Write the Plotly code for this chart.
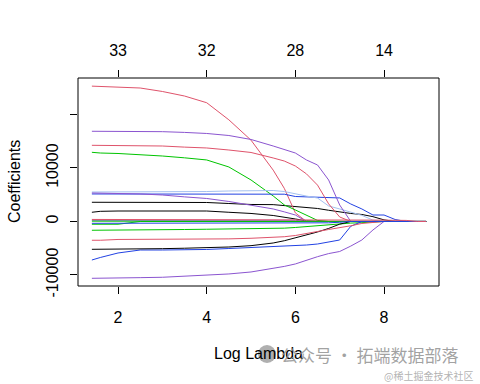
import plotly.graph_objects as go

# log(lambda) grid
log_lambda = [1.41, 1.6, 2, 2.5, 3, 3.5, 4, 4.5, 5, 5.5, 5.75, 6, 6.25, 6.5,
              6.75, 7, 7.25, 7.5, 7.75, 8, 8.25, 8.5, 8.75, 8.95]

top_ticks = [2, 4, 6, 8]
top_labels = ["33", "32", "28", "14"]
y_ticks = [-10000, 0, 10000, 20000]
y_labels = ["-10000", "0", "10000", ""]

BLACK = "#000000"
PINK = "#DF536B"
GREEN = "#00C400"
BLUE = "#2242E3"
LIGHTBLUE = "#A3C0F0"
PURPLE = "#8B55D0"

c_pink1 = [25300, 25250, 25200, 24950, 24300, 23450, 22200, 19000, 15200, 9600,
           6200, 1600, 0, 0, 0, 0, 0, 0, 0, 0, 0, 0, 0, 0]
c_purple1 = [16860, 16860, 16800, 16800, 16790, 16650, 16450, 16070, 15330, 14110,
             13400, 12800, 11500, 10560, 7760, 3080, 0, 0, 0, 0, 0, 0, 0, 0]
c_pink2 = [14240, 14240, 14220, 14150, 14110, 13900, 13740, 13360, 12900, 11870,
           11300, 10370, 8900, 6800, 3300, 840, 0, 0, 0, 0, 0, 0, 0, 0]
c_green1 = [12930, 12800, 12710, 12500, 12240, 11900, 11500, 10190, 7760, 4770,
            3100, 2150, 1210, 200, 0, 0, 0, 0, 0, 0, 0, 0, 0, 0]
c_lightblue = [5510, 5510, 5520, 5550, 5570, 5590, 5600, 5700, 5790, 5790,
               5600, 5140, 4750, 4390, 2900, 2340, 1700, 1150, 250, 0, 0, 0, 0, 0]
c_purple_mid = [5330, 5330, 5230, 5150, 4950, 4600, 4300, 3740, 3080, 2340,
                1800, 1210, 0, 0, 0, 0, 0, 0, 0, 0, 0, 0, 0, 0]
c_blue1 = [5140, 5140, 5140, 5140, 5140, 5140, 5140, 5140, 5140, 5140,
           5100, 4670, 4600, 4580, 4500, 4400, 3270, 2340, 1210, 1210, 370, 0, 0, 0]
c_black1 = [3590, 3590, 3590, 3580, 3570, 3560, 3550, 3360, 3180, 3150,
            3000, 2800, 2600, 2430, 2100, 1780, 1500, 1310, 900, 300, 0, 0, 0, 0]
c_black2 = [1720, 1900, 1960, 1960, 1960, 1960, 1960, 1720, 1500, 1120,
            850, 470, 100, 0, 0, 0, 0, 0, 0, 0, 0, 0, 0, 0]
c_green2 = [-1640, -1640, -1640, -1600, -1500, -1500, -1450, -1420, -1400, -1310,
            -1250, -1120, -950, -750, -550, -370, -300, -220, -80, 0, 0, 0, 0, 0]
c_pink3 = [-3510, -3510, -3360, -3340, -3330, -3330, -3330, -3250, -3140, -2990,
           -2850, -2620, -2300, -1870, -1500, -1210, -800, -370, -150, 0, 0, 0, 0, 0]
c_black3 = [-5200, -5200, -5200, -5150, -5080, -5000, -4950, -4770, -4520, -4020,
            -3600, -3080, -2500, -1960, -1300, -500, 0, 0, 0, 0, 0, 0, 0, 0]
c_blue2 = [-7200, -6730, -5890, -5330, -5330, -5300, -5230, -5050, -4860, -4640,
           -4600, -4580, -4400, -4210, -3800, -3460, -900, 0, 0, 0, 0, 0, 0, 0]
c_purple2 = [-10620, -10620, -10560, -10500, -10430, -10250, -10090, -9810, -9440, -8790,
             -8400, -7940, -7200, -6580, -6000, -5610, -4600, -3460, -1590, 0, 0, 0, 0, 0]
c_nz_green_short = [-520, -520, -520, 0, 0, 0, 0, 0, 0, 0, 0, 0, 0, 0,
                    0, 0, 0, 0, 0, 0, 0, 0, 0, 0]
c_nz_blue = [-340, -340, -340, -340, -340, -340, -340, -340, -340, -340,
             -340, -340, -340, -340, -250, -150, 0, 0, 0, 0, 0, 0, 0, 0]
c_nz_green = [60, 60, 60, 60, 60, 60, 60, 60, 60, 60, 60, 60, 60, 60,
              0, 0, 0, 0, 0, 0, 0, 0, 0, 0]
c_nz_purple = [230, 230, 230, 230, 230, 230, 230, 230, 230, 230, 230, 230,
               0, 0, 0, 0, 0, 0, 0, 0, 0, 0, 0, 0]
c_nz_pink = [380, 380, 380, 380, 380, 380, 380, 380, 380, 380, 380, 380, 380,
             380, 380, 380, 380, 380, 300, 250, 220, 200, 0, 0]

paths = [
    (c_black1, BLACK), (c_pink1, PINK), (c_green1, GREEN), (c_blue1, BLUE),
    (c_lightblue, LIGHTBLUE), (c_purple1, PURPLE), (c_black2, BLACK),
    (c_pink2, PINK), (c_green2, GREEN), (c_blue2, BLUE), (c_purple_mid, PURPLE),
    (c_black3, BLACK), (c_pink3, PINK), (c_purple2, PURPLE),
    (c_nz_green_short, GREEN), (c_nz_purple, PURPLE), (c_nz_green, GREEN),
    (c_nz_blue, BLUE), (c_nz_pink, PINK),
]

fig = go.Figure()
for vals, col in paths:
    fig.add_trace(go.Scatter(x=log_lambda, y=vals, mode="lines",
                             line=dict(color=col, width=1), showlegend=False,
                             hoverinfo="skip"))
# invisible trace for the top axis
fig.add_trace(go.Scatter(x=[log_lambda[0]], y=[0], xaxis="x2", mode="markers",
                         marker=dict(opacity=0), showlegend=False, hoverinfo="skip"))

FONT = "Arial, Liberation Sans, sans-serif"
xr = [1.097, 9.24]
fig.update_layout(
    width=480, height=384,
    margin=dict(l=78, r=41, t=78, b=98),
    paper_bgcolor="white", plot_bgcolor="white",
    font=dict(family=FONT, size=16, color="black"),
    xaxis=dict(range=xr, tickvals=top_ticks, ticks="outside", ticklen=7,
               tickcolor="black", showgrid=False, zeroline=False, showline=False,
               tickfont=dict(size=16), ticklabelstandoff=10, automargin=False),
    xaxis2=dict(range=xr, overlaying="x", side="top", tickvals=top_ticks,
                ticktext=top_labels, ticks="outside", ticklen=7, tickcolor="black",
                showgrid=False, zeroline=False, showline=False,
                tickfont=dict(size=16), ticklabelstandoff=8, automargin=False),
    yaxis=dict(range=[-12060, 26820], tickvals=y_ticks, ticktext=y_labels,
               ticks="outside", ticklen=7, tickcolor="black", tickangle=-90,
               showgrid=False, zeroline=False, showline=False,
               tickfont=dict(size=16), ticklabelstandoff=6, automargin=False),
    shapes=[
        dict(type="rect", xref="paper", yref="paper", x0=0, x1=1, y0=0, y1=1,
             line=dict(color="black", width=1), layer="above"),
        dict(type="circle", xref="paper", yref="paper",
             x0=(258 - 78) / 361, x1=(276 - 78) / 361,
             y0=(286 - 363) / 208, y1=(286 - 345) / 208,
             fillcolor="rgba(110,110,110,0.55)", line=dict(width=0)),
    ],
    annotations=[
        dict(text="Log Lambda", xref="paper", yref="paper", x=0.5,
             y=(286 - 353) / 208, showarrow=False, font=dict(size=16),
             xanchor="center", yanchor="middle"),
        dict(text="Coefficients", xref="paper", yref="paper",
             x=(14 - 78) / 361, y=0.5, textangle=-90, showarrow=False,
             font=dict(size=16), xanchor="center", yanchor="middle"),
        dict(text="公众号 · 拓端数据部落", xref="paper", yref="paper",
             x=(370 - 78) / 361, y=(286 - 354) / 208, showarrow=False,
             font=dict(size=17, color="rgba(145,145,145,0.85)",
                       family="Noto Sans CJK SC"),
             xanchor="center", yanchor="middle"),
        dict(text="@稀土掘金技术社区", xref="paper", yref="paper",
             x=(428 - 78) / 361, y=(286 - 375) / 208, showarrow=False,
             font=dict(size=10, color="rgba(170,170,170,0.9)",
                       family="Noto Sans CJK SC"),
             xanchor="center", yanchor="middle"),
    ],
)

fig.write_html("out.html", config={"displayModeBar": False},
               post_script="document.body.style.margin='0px';"
                           "document.body.style.overflow='hidden';")
